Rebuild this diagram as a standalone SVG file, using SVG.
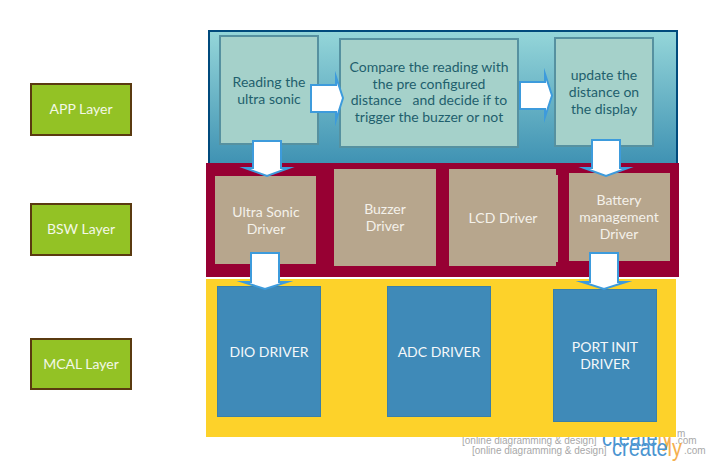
<svg xmlns="http://www.w3.org/2000/svg" width="710" height="465" viewBox="0 0 710 465">
<style>
text{font-family:Lato,"Open Sans","Liberation Sans",sans-serif;font-size:14px;text-anchor:middle}
.wm{font-family:"Liberation Sans",Arial,sans-serif;font-size:10px;fill:#a8a8a8;text-anchor:start}
.cr{font-family:"Liberation Sans",Arial,sans-serif;font-size:23px;fill:#4a94d0;text-anchor:start}
.cr tspan{fill:#f5b04f}
.com{font-family:"Liberation Sans",Arial,sans-serif;font-size:10px;fill:#a8a8a8;text-anchor:start}
.layer rect{fill:#93c225;stroke:#5a3a10;stroke-width:2}
.layer text{fill:#f4f8e8}
.app rect{fill:#a5d1ca;stroke:#5691a0;stroke-width:2}
.app text{fill:#1f5f6d}
.bsw rect,.bsw path{fill:#b7a68d}
.bsw text{fill:#f4f1ea}
.mcal rect{fill:#3f8ab8;stroke:#3a80a8;stroke-width:1}
.mcal text{fill:#f4f8fa}
.arrow{fill:#fff;stroke:#3d9bdc;stroke-width:2;stroke-miterlimit:10}
</style>
<defs>
<linearGradient id="g" x1="0" y1="0" x2="0" y2="1"><stop offset="0" stop-color="#95d6d9"/><stop offset="1" stop-color="#3f92b3"/></linearGradient>
</defs>
<g id="watermark">
<text class="com" x="677" y="437">m</text>
<text class="wm" x="462" y="444">[online diagramming &amp; design]</text>
<text class="cr" x="602" y="446" textLength="70" lengthAdjust="spacingAndGlyphs">create<tspan>ly</tspan></text>
<text class="com" x="675" y="444">.com</text>
<text class="wm" x="472" y="454">[online diagramming &amp; design]</text>
<text class="cr" x="612" y="456" textLength="70" lengthAdjust="spacingAndGlyphs">create<tspan>ly</tspan></text>
<text class="com" x="684" y="454">.com</text>
</g>
<g id="panel-app"><rect x="209" y="31" width="468" height="133" fill="url(#g)" stroke="#004a7c" stroke-width="2"/></g>
<g id="panel-bsw"><rect x="206" y="163" width="473" height="114" fill="#970033"/></g>
<g id="panel-mcal"><rect x="206" y="279" width="470" height="158" fill="#fdd22a"/></g>
<g id="app-layer" class="layer"><rect x="31" y="84" width="100" height="51"/><text x="81" y="114">APP Layer</text></g>
<g id="bsw-layer" class="layer"><rect x="31" y="204" width="100" height="51"/><text x="81" y="234">BSW Layer</text></g>
<g id="mcal-layer" class="layer"><rect x="31" y="339" width="100" height="50"/><text x="81" y="369">MCAL Layer</text></g>
<g id="reading" class="app"><rect x="220" y="36" width="98" height="108"/><text x="269" y="87">Reading the</text><text x="269" y="104">ultra sonic</text></g>
<g id="compare" class="app"><rect x="340" y="39" width="178" height="108"/><text x="429" y="72">Compare the reading with</text><text x="429" y="89">the pre configured</text><text x="429" y="105">distance &#160; and decide if to</text><text x="429" y="122">trigger the buzzer or not</text></g>
<g id="update" class="app"><rect x="555" y="38" width="98" height="108"/><text x="604" y="80">update the</text><text x="604" y="97">distance on</text><text x="604" y="114">the display</text></g>
<g id="ultra" class="bsw"><rect x="215" y="176" width="101" height="88"/><text x="266" y="217">Ultra Sonic</text><text x="266" y="234">Driver</text></g>
<g id="buzzer" class="bsw"><rect x="334" y="169" width="102" height="97"/><text x="385" y="214">Buzzer</text><text x="385" y="231">Driver</text></g>
<g id="lcd" class="bsw"><path d="M449 169H556V175H558V262H556V266H449Z"/><text x="503" y="223">LCD Driver</text></g>
<g id="battery" class="bsw"><rect x="569" y="173" width="101" height="88"/><text x="619" y="205">Battery</text><text x="619" y="222">management</text><text x="619" y="239">Driver</text></g>
<g id="dio" class="mcal"><rect x="217.500" y="286.500" width="103" height="130"/><text x="269" y="357">DIO DRIVER</text></g>
<g id="adc" class="mcal"><rect x="387.500" y="286.500" width="103" height="130"/><text x="439" y="357">ADC DRIVER</text></g>
<g id="port" class="mcal"><rect x="553.500" y="289.500" width="103" height="132"/><text x="605" y="352">PORT INIT</text><text x="605" y="369">DRIVER</text></g>
<g id="connectors">
<path class="arrow" d="M311 85H336V77L343 98L336 120V112H311Z"/>
<path class="arrow" d="M520 82H545V74L552 95.500L545 117V109H520Z"/>
<path class="arrow" d="M253 141H281V168H289L267 176L245 168H253Z"/>
<path class="arrow" d="M592 140H620V168H628L606 176L584 168H592Z"/>
<path class="arrow" d="M251 253H279V282H287L265 289L243 282H251Z"/>
<path class="arrow" d="M590 253H618V282H626L604 289L582 282H590Z"/>
</g>
</svg>
